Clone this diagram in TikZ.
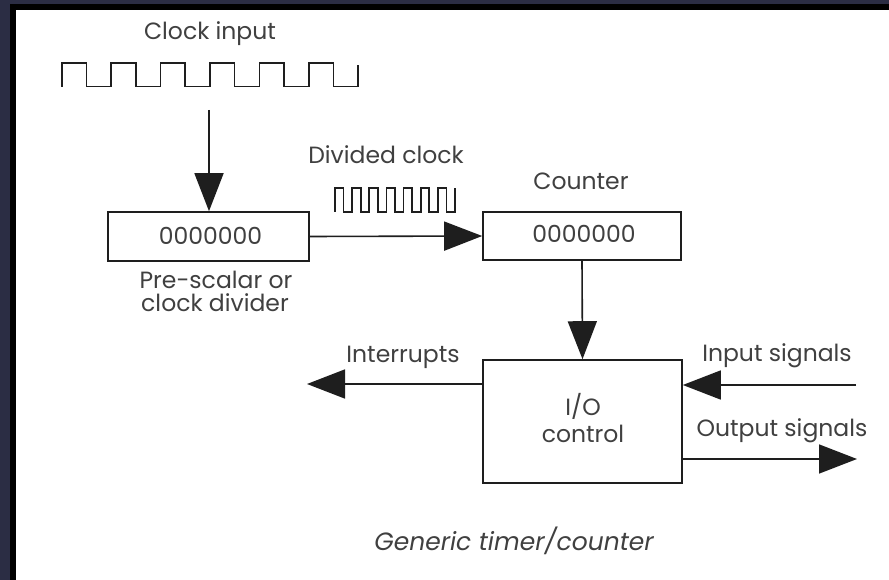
\documentclass[tikz,border=0pt]{standalone}
\usepackage{fontspec}
\setmainfont{Poppins}
\usetikzlibrary{arrows.meta}
\definecolor{navy}{HTML}{2B2D44}
\definecolor{ink}{HTML}{1E1E1E}
\definecolor{txt}{HTML}{404040}
\begin{document}
\begin{tikzpicture}[x=1pt,y=-1pt,
  wire/.style={draw=ink, line width=1.6pt},
  bigtip/.style={-{Triangle[length=38pt,width=29pt]}},
  blockbox/.style={draw=ink, line width=1.6pt, fill=white, inner sep=0pt},
  lbl/.style={text=txt, inner sep=0pt, anchor=base, font=\fontsize{23.5}{28}\selectfont},
]
% background and frame
\fill[white] (0,0) rectangle (889,580);
\fill[navy] (0,0) rectangle (889,4);
\fill[navy] (0,0) rectangle (10,580);
\fill[black] (10,4) rectangle (889,10);
\fill[black] (10,4) rectangle (16,580);
\useasboundingbox (0,0) rectangle (889,580);

% clock input
\node[lbl] (clklbl) at (210,40) {Clock input};
\draw[wire] (61.7,86.7) \foreach \i in {1,...,6}{ -- ++(0,-23.4) -- ++(24.7,0) -- ++(0,23.4) -- ++(24.7,0)} -- ++(0,-22);
\coordinate (clkout) at (209,110);

% prescaler
\node[blockbox, minimum width=201pt, minimum height=49pt] (pre) at (208.5,236.5) {};
\node[lbl] (prenum) at (210.5,245) {0000000};
\node[lbl] (prelbl1) at (216,288) {Pre-scalar or};
\node[lbl] (prelbl2) at (215,311) {clock divider};

% divided clock
\node[lbl] (divlbl) at (386,164) {Divided clock};
\draw[wire] (335,212) \foreach \i in {1,...,7}{ -- ++(0,-24) -- ++(8.57,0) -- ++(0,24) -- ++(8.57,0)} -- ++(0,-24);

% counter
\node[lbl] (cntlbl) at (581,190) {Counter};
\node[blockbox, minimum width=198pt, minimum height=48pt] (cnt) at (582,236) {};
\node[lbl] (cntnum) at (584,243) {0000000};

% I/O control
\node[blockbox, minimum width=199pt, minimum height=123pt] (io) at (582.5,421.5) {};
\node[lbl] (iolbl1) at (583,415) {I/O};
\node[lbl] (iolbl2) at (583,442) {control};

% external signal ends
\coordinate (intr) at (307,384);
\coordinate (inp) at (856,385);
\coordinate (outp) at (857,459);
\node[lbl] (intlbl) at (403,362) {Interrupts};
\node[lbl] (inlbl) at (777,361) {Input signals};
\node[lbl] (outlbl) at (782,436) {Output signals};

% connectors
\draw[wire, bigtip] (clkout) -- (clkout |- pre.north);
\draw[wire, bigtip] (pre.east) -- (cnt.west);
\draw[wire, bigtip] (cnt.south) -- (io.north);
\draw[wire, bigtip] (inp) -- (inp -| io.east);
\draw[wire, bigtip] (io.east |- outp) -- (outp);
\draw[wire, bigtip] (io.west |- intr) -- (intr);

% caption
\node[lbl, font=\fontsize{25}{30}\selectfont\itshape] (cap) at (514,550) {Generic timer/counter};
\end{tikzpicture}
\end{document}
